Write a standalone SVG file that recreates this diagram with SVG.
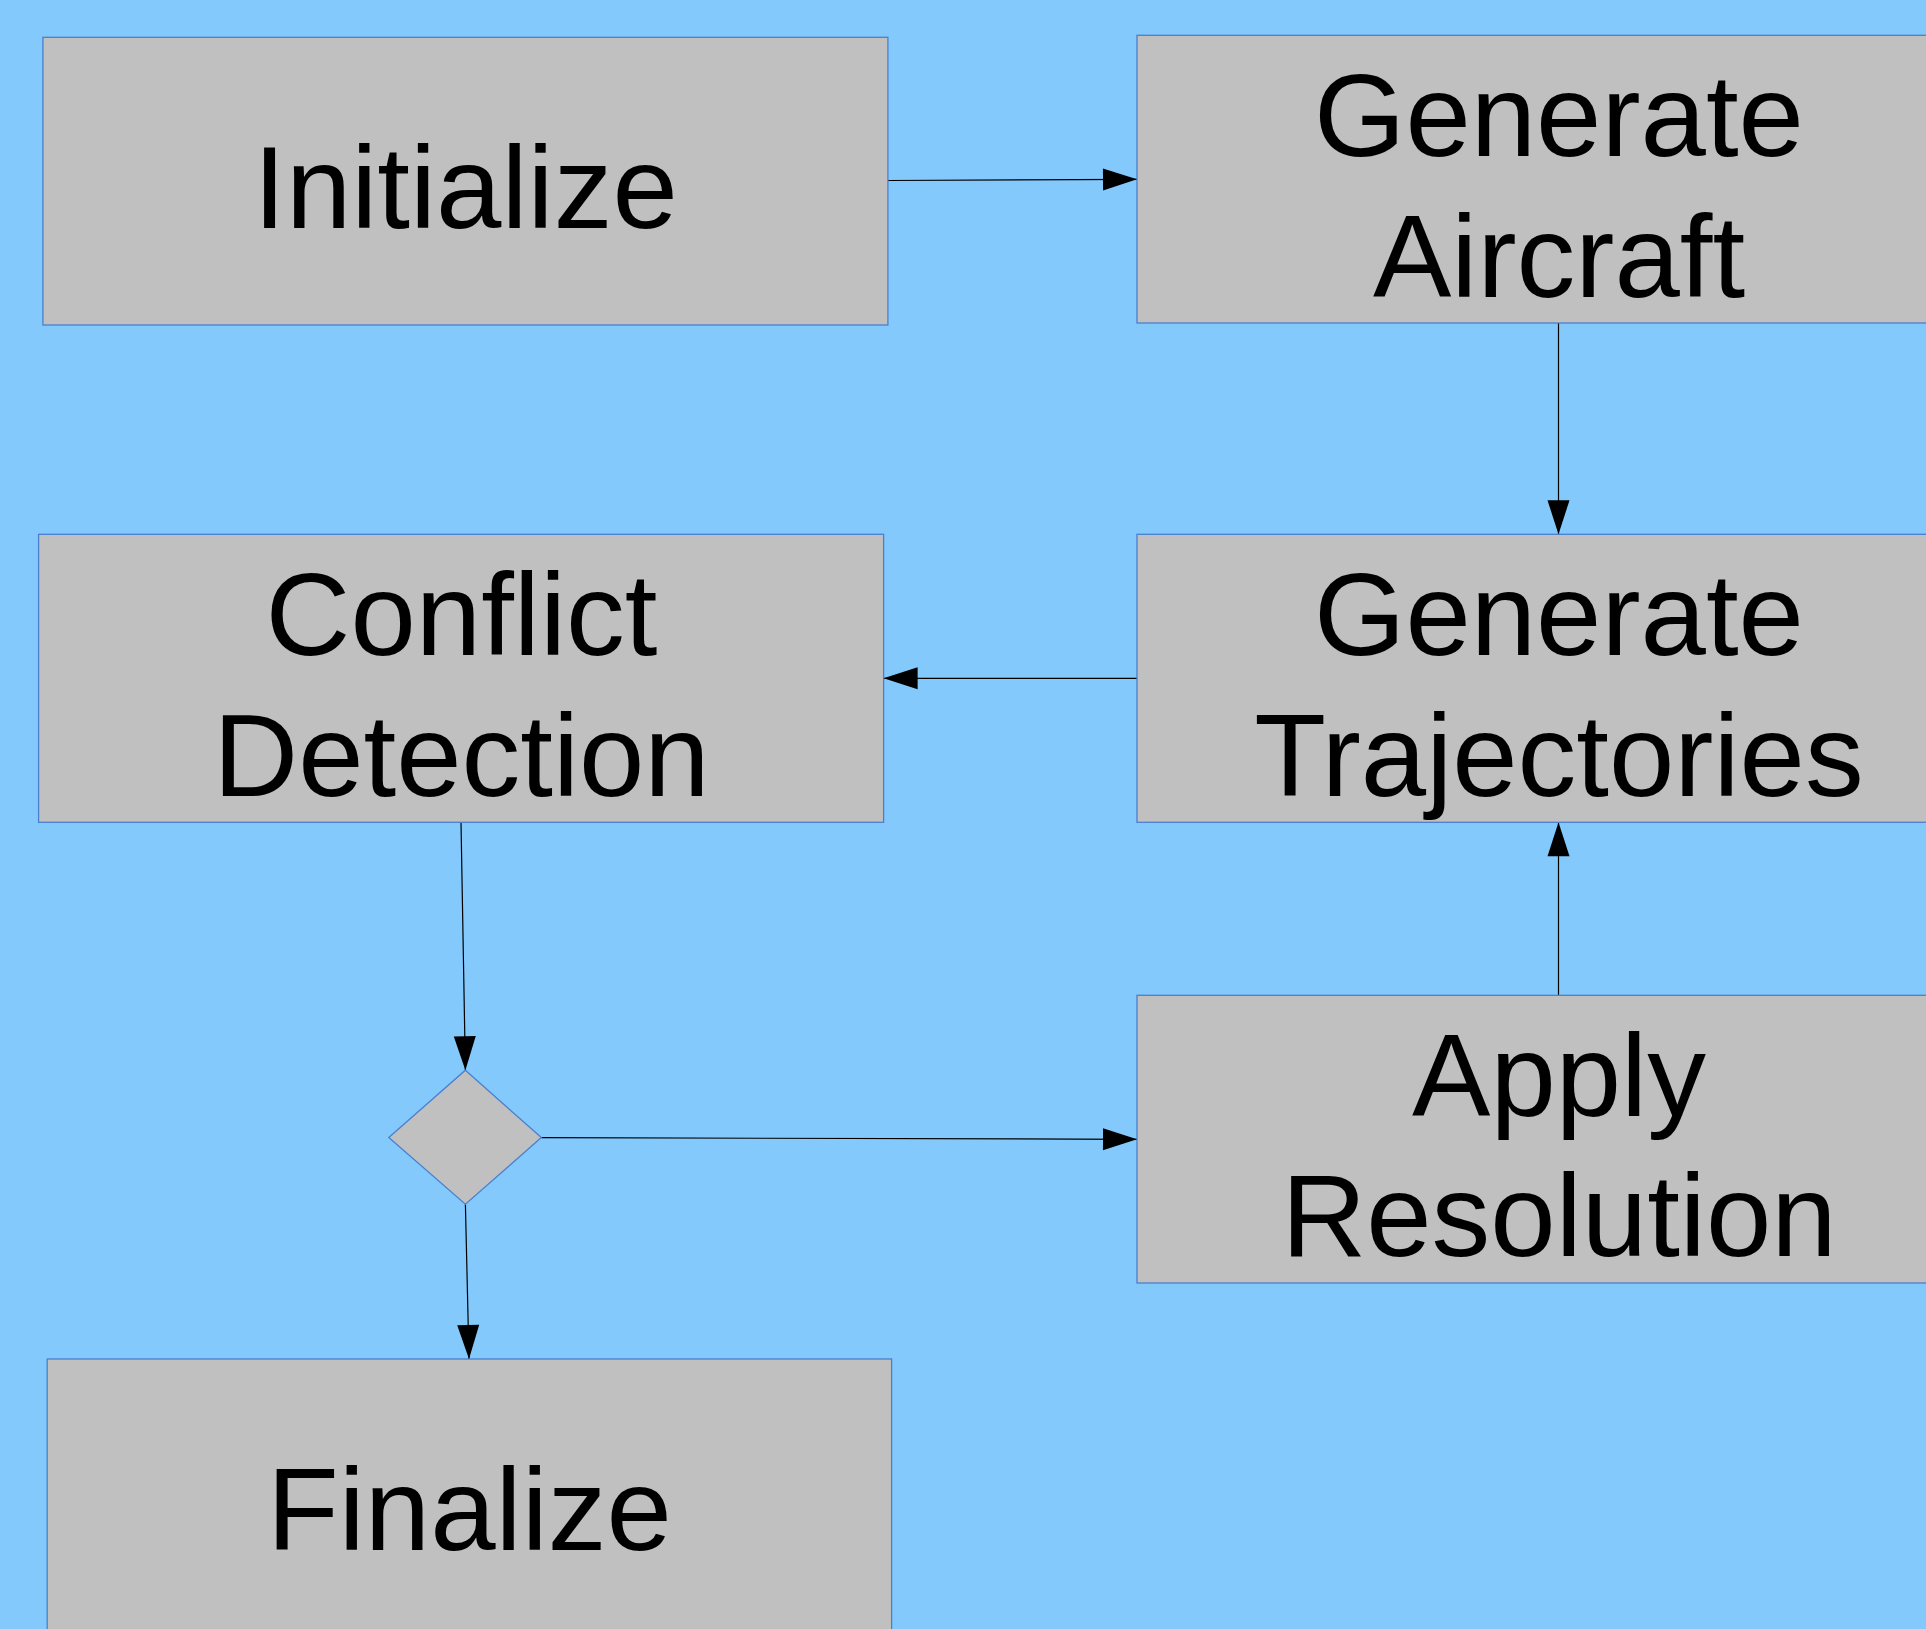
<svg xmlns="http://www.w3.org/2000/svg" width="1926" height="1629" viewBox="0 0 1926 1629">
<style>
.box{fill:#c0c0c0;stroke:#4a7fd0;stroke-width:1.3}
.lbl{font-family:"Liberation Sans",Arial,sans-serif;font-size:117.5px;fill:#000;text-anchor:middle}
.con{stroke:#000;stroke-width:1.2;fill:none;marker-end:url(#ah)}
</style>
<defs>
<marker id="ah" markerUnits="userSpaceOnUse" markerWidth="34" markerHeight="22" refX="34" refY="11" orient="auto" overflow="visible">
<path d="M0,0 L34,11 L0,22 z" fill="#000"/>
</marker>
</defs>
<rect x="0" y="0" width="1926" height="1629" fill="#83c9fc"/>
<g id="connectors">
<line class="con" x1="888" y1="180.5" x2="1137" y2="179.3"/>
<line class="con" x1="1558.5" y1="323" x2="1558.5" y2="534.3"/>
<line class="con" x1="1137" y1="678.3" x2="883.6" y2="678.3"/>
<line class="con" x1="461" y1="822.3" x2="465.4" y2="1070.2"/>
<line class="con" x1="541.3" y1="1137.6" x2="1137" y2="1139.3"/>
<line class="con" x1="1558.5" y1="995.3" x2="1558.5" y2="822.3"/>
<line class="con" x1="465.4" y1="1204.2" x2="469" y2="1359"/>
</g>
<g id="initialize">
<rect class="box" x="42.9" y="37.3" width="845" height="287.7"/>
<text class="lbl" x="465.5" y="228">Initialize</text>
</g>
<g id="generate-aircraft">
<rect class="box" x="1137" y="35.3" width="845" height="287.7"/>
<text class="lbl" x="1559" y="156">Generate</text>
<text class="lbl" x="1559" y="297">Aircraft</text>
</g>
<g id="conflict-detection">
<rect class="box" x="38.6" y="534.3" width="845" height="288"/>
<text class="lbl" x="461.5" y="655">Conflict</text>
<text class="lbl" x="461.5" y="795.7">Detection</text>
</g>
<g id="generate-trajectories">
<rect class="box" x="1137" y="534.3" width="845" height="288"/>
<text class="lbl" x="1559" y="655">Generate</text>
<text class="lbl" x="1559" y="795.7">Trajectories</text>
</g>
<g id="decision">
<polygon class="box" points="465.4,1070.2 541.3,1137.6 465.4,1204.2 388.8,1137.6"/>
</g>
<g id="apply-resolution">
<rect class="box" x="1137" y="995.3" width="845" height="287.7"/>
<text class="lbl" x="1559" y="1115.7">Apply</text>
<text class="lbl" x="1559" y="1256">Resolution</text>
</g>
<g id="finalize">
<rect class="box" x="47.2" y="1359" width="844.4" height="288"/>
<text class="lbl" x="469.4" y="1550.3">Finalize</text>
</g>
</svg>
